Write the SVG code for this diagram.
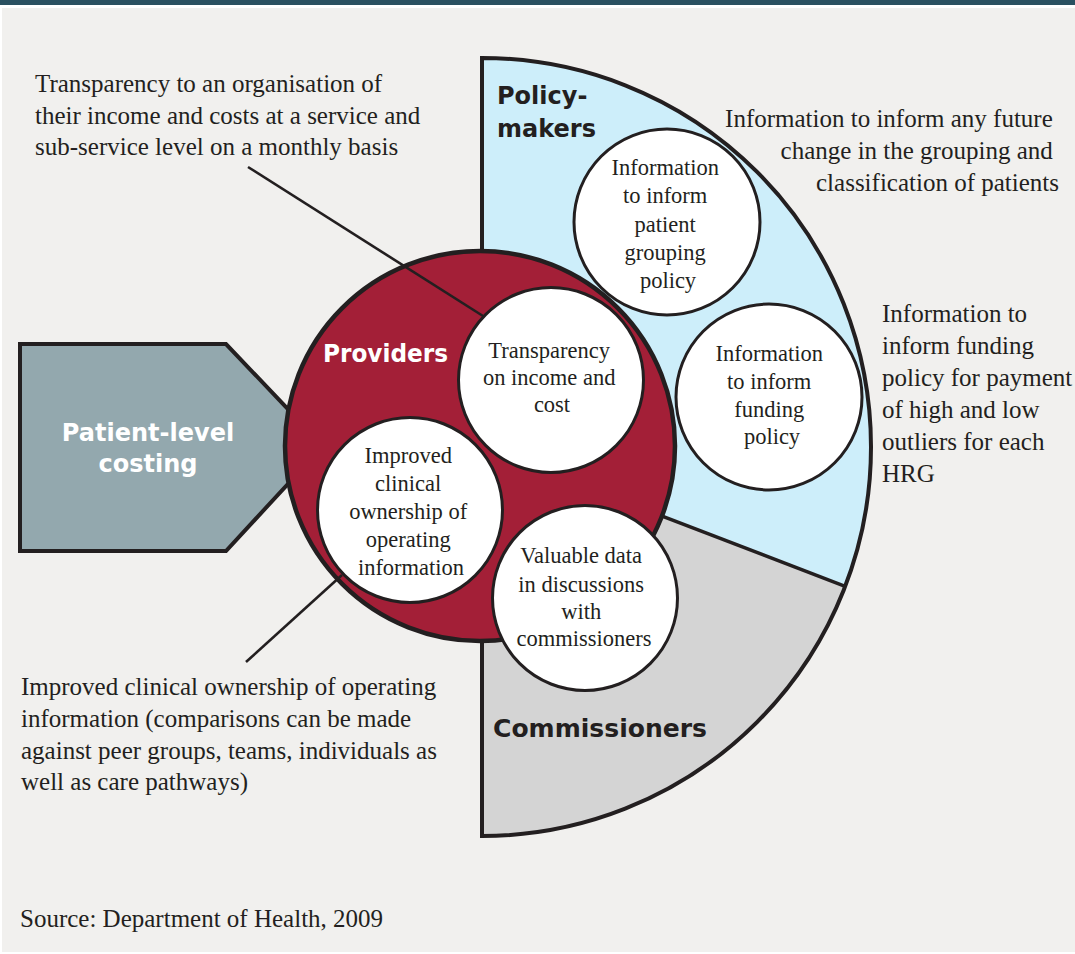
<svg xmlns="http://www.w3.org/2000/svg" width="1075" height="954" viewBox="0 0 1075 954">
  <style>
    .ink { stroke: #231f20; }
    .head { font-family: "DejaVu Sans", "Liberation Sans", sans-serif; font-weight: bold; font-size: 24px; }
    .serif { font-family: "Liberation Serif", "Times New Roman", serif; fill: #231f20; }
    .note { font-size: 25px; }
    .bubble-text { font-size: 22.5px; text-anchor: middle; }
    .bubble { fill: #ffffff; stroke: #231f20; stroke-width: 3; }
    .leader { stroke: #231f20; stroke-width: 2.6; fill: none; }
  </style>

  <!-- page background -->
  <rect x="0" y="0" width="1075" height="954" fill="#ffffff"/>
  <rect x="0" y="0" width="1075" height="5" fill="#2a5060"/>
  <rect x="2" y="8" width="1073" height="944" fill="#f1f0ee"/>

  <!-- Policy-makers sector -->
  <g id="policymakers">
    <path d="M482,58 A389,389 0 0 1 845.2,586.4 L482,447 Z" fill="#cdeefa"/>
    <text class="head" x="497" y="104" fill="#231f20">Policy-</text>
    <text class="head" x="497" y="137" fill="#231f20">makers</text>
  </g>

  <!-- Commissioners sector -->
  <g id="commissioners">
    <path d="M482,447 L845.2,586.4 A389,389 0 0 1 482,836 Z" fill="#d4d4d4"/>
    <text class="head" x="493" y="737" fill="#231f20" textLength="214" lengthAdjust="spacingAndGlyphs">Commissioners</text>
  </g>

  <!-- outline of the half disc and the sector divider -->
  <g id="halfdisc-outline" fill="none" class="ink">
    <line x1="482" y1="447" x2="845.2" y2="586.4" stroke-width="3.5"/>
    <path d="M482,58 A389,389 0 0 1 482,836 Z" stroke-width="4"/>
  </g>

  <!-- Patient-level costing arrow -->
  <g id="patient-level-costing">
    <polygon points="20,344 226,344 323,446 226,551 20,551" fill="#93a8ae" class="ink" stroke-width="4" stroke-linejoin="miter"/>
    <text class="head" x="148" y="441" fill="#ffffff" text-anchor="middle">Patient-level</text>
    <text class="head" x="148" y="472" fill="#ffffff" text-anchor="middle">costing</text>
  </g>

  <!-- Providers disc -->
  <g id="providers">
    <circle cx="480" cy="446" r="195" fill="#a31f37" class="ink" stroke-width="4.5"/>
    <text class="head" x="323" y="362" fill="#ffffff" textLength="125" lengthAdjust="spacingAndGlyphs">Providers</text>
  </g>

  <!-- leader lines from the notes -->
  <g id="connectors">
    <line class="leader" x1="248" y1="167" x2="483" y2="316"/>
    <line class="leader" x1="246" y1="662" x2="342" y2="575"/>
  </g>

  <!-- benefit bubbles -->
  <g id="bubble-grouping">
    <circle class="bubble" cx="667" cy="222" r="93"/>
    <text class="serif bubble-text">
      <tspan x="668" y="175">Information</tspan>
      <tspan x="668" y="203">to inform</tspan>
      <tspan x="668" y="232">patient</tspan>
      <tspan x="668" y="260">grouping</tspan>
      <tspan x="668" y="288">policy</tspan>
    </text>
  </g>

  <g id="bubble-funding">
    <circle class="bubble" cx="769" cy="397" r="93"/>
    <text class="serif bubble-text">
      <tspan x="772" y="361">Information</tspan>
      <tspan x="772" y="389">to inform</tspan>
      <tspan x="772" y="417">funding</tspan>
      <tspan x="772" y="444">policy</tspan>
    </text>
  </g>

  <g id="bubble-transparency">
    <circle class="bubble" cx="551" cy="380" r="92.5"/>
    <text class="serif bubble-text">
      <tspan x="552" y="358">Transparency</tspan>
      <tspan x="552" y="385">on income and</tspan>
      <tspan x="552" y="412">cost</tspan>
    </text>
  </g>

  <g id="bubble-ownership">
    <circle class="bubble" cx="410" cy="510" r="92.5"/>
    <text class="serif bubble-text">
      <tspan x="411" y="463">Improved</tspan>
      <tspan x="411" y="491">clinical</tspan>
      <tspan x="411" y="519">ownership of</tspan>
      <tspan x="411" y="547">operating</tspan>
      <tspan x="411" y="575">information</tspan>
    </text>
  </g>

  <g id="bubble-valuable-data">
    <circle class="bubble" cx="585" cy="598" r="92.5"/>
    <text class="serif bubble-text">
      <tspan x="584" y="563">Valuable data</tspan>
      <tspan x="584" y="592">in discussions</tspan>
      <tspan x="584" y="619">with</tspan>
      <tspan x="584" y="646">commissioners</tspan>
    </text>
  </g>

  <!-- explanatory notes -->
  <g id="note-transparency">
    <text class="serif note">
      <tspan x="35" y="92">Transparency to an organisation of</tspan>
      <tspan x="35" y="123.5">their income and costs at a service and</tspan>
      <tspan x="35" y="155">sub-service level on a monthly basis</tspan>
    </text>
  </g>

  <g id="note-grouping">
    <text class="serif note" text-anchor="end">
      <tspan x="1059" y="127">Information to inform any future</tspan>
      <tspan x="1059" y="159">change in the grouping and</tspan>
      <tspan x="1059" y="191">classification of patients</tspan>
    </text>
  </g>

  <g id="note-funding">
    <text class="serif note">
      <tspan x="882" y="322">Information to</tspan>
      <tspan x="882" y="353.5">inform funding</tspan>
      <tspan x="882" y="386">policy for payment</tspan>
      <tspan x="882" y="418">of high and low</tspan>
      <tspan x="882" y="450">outliers for each</tspan>
      <tspan x="882" y="482">HRG</tspan>
    </text>
  </g>

  <g id="note-ownership">
    <text class="serif note">
      <tspan x="21" y="695">Improved clinical ownership of operating</tspan>
      <tspan x="21" y="727">information (comparisons can be made</tspan>
      <tspan x="21" y="759">against peer groups, teams, individuals as</tspan>
      <tspan x="21" y="790">well as care pathways)</tspan>
    </text>
  </g>

  <text id="source" class="serif note" x="20" y="927">Source: Department of Health, 2009</text>
</svg>
